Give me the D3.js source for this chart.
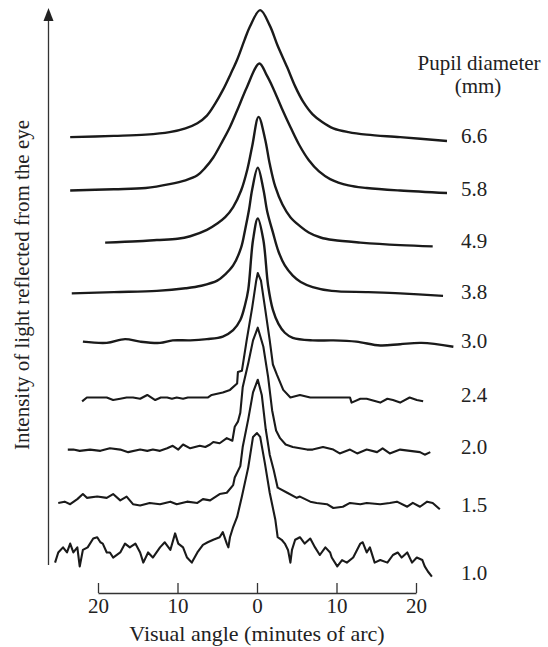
<!DOCTYPE html>
<html>
<head>
<meta charset="utf-8">
<script src="https://cdn.jsdelivr.net/npm/d3@7"></script>
<style>
    body { margin: 0; background: #fff; }
    svg { display: block; }
    text { font-family: "Liberation Serif", "Times New Roman", serif; fill: #222; }
</style>
</head>
<body>
<svg id="chart"></svg>
<script>
// pupil diameters (mm), top curve first
const pupils = ["6.6", "5.8", "4.9", "3.8", "3.0", "2.4", "2.0", "1.5", "1.0"];
// vertical offset of each trace (relative intensity, %)
const offsets = [329, 287, 246, 206, 167, 122, 81, 42, 0];
const xTicks = [-20, -10, 0, 10, 20];

// [visual angle (minutes of arc), relative intensity (%)]
const curve66 = [[-23.5,0],[-18,1],[-14,2],[-11,4],[-9,7],[-7.5,11],[-6.3,17],[-5.3,26],[-4.3,37],[-3.3,50],[-2.5,61],[-1.6,76],[-0.9,87],[0.4,100],[1.6,88],[2.6,72],[3.8,55],[4.8,40],[5.8,28],[7,18],[8.2,12],[9.6,7],[11.5,4],[13.8,2],[18,0],[23.9,-3]];
const curve58 = [[-23.5,0],[-18,1],[-14,2],[-11,5],[-9,8],[-7.5,12],[-6.5,18],[-5.5,26],[-4.5,37],[-3.4,50],[-2.3,66],[-1.3,81],[0.3,100],[1.2,91],[2.0,81],[3.1,65],[4.2,50],[5.3,36],[6.5,24],[7.8,15],[9.2,9],[11.5,4],[13.8,2],[18,0],[23.9,-2]];
const curve49 = [[-19.1,0],[-15,1],[-12.6,2],[-10,3],[-8.4,5],[-6.3,10],[-5,15],[-4,20],[-3,28],[-2,41],[-1.2,58],[-0.6,76],[0.2,99],[1,82],[1.6,62],[2.3,44],[3.2,30],[4.2,20],[5.4,13],[6.5,8],[8,4],[9.6,2],[13,0],[18,-2],[22.1,-3]];
const curve38 = [[-23.3,0],[-18,1],[-12.6,2],[-9,4],[-7,6],[-5,10],[-4,15],[-3,22],[-2,36],[-1.5,50],[-1,66],[-0.6,82],[0.1,99],[0.8,82],[1.3,64],[2,48],[2.7,33],[3.5,22],[4.5,14],[5.5,9],[7,5],[9.4,2],[14,1],[18,0],[23.4,-2]];
const curve30 = [[-21.9,1],[-18.9,0],[-16.6,3],[-14.7,1],[-12.2,0],[-10.6,2],[-8.4,2],[-6.3,3],[-4.3,5],[-3,10],[-2.1,18],[-1.5,30],[-1.1,42],[-0.5,81],[0.1,98],[0.8,81],[1.4,45],[2,26],[2.7,15],[3.5,8],[4.5,4],[7,2],[9.6,2],[12.5,1],[15.5,-2],[18,-1],[20.7,0],[24.7,-3]];
const curve24 = [[-22.0,-1],[-21.4,2],[-19.7,2],[-18.9,2],[-18.1,0],[-17.2,1],[-16.4,2],[-15.6,2],[-14.7,1],[-13.8,4],[-12.8,0],[-12.1,2],[-11.3,2],[-10.7,1],[-10.1,2],[-9.3,1],[-8.7,2],[-8.1,2],[-6.2,2],[-5.7,4],[-4.3,6],[-3.4,8],[-2.5,13],[-2.4,22],[-1.9,23],[-1.3,47],[-0.6,73],[-0.1,94],[0.1,100],[0.5,94],[1.0,73],[1.6,47],[2.0,28],[2.5,20],[3.3,8],[4.2,2],[5.4,4],[6.7,2],[9.2,2],[11.7,2],[11.9,-2],[13.0,1],[13.8,1],[15.5,-2],[16.4,1],[17.1,0],[18.0,-2],[19.2,2],[20.1,0],[20.9,-1]];
const curve20 = [[-23.8,2],[-23.1,2],[-22.3,1],[-21.0,2],[-19.7,1],[-18.5,3],[-17.2,2],[-16.2,0],[-14.7,2],[-13.8,1],[-13.1,2],[-12.2,1],[-11.3,3],[-10.6,5],[-9.9,2],[-9.3,6],[-8.4,3],[-7.2,5],[-6.5,4],[-5.9,6],[-5.5,8],[-4.7,7],[-3.8,11],[-3.1,9],[-2.8,20],[-2.4,24],[-2.1,31],[-1.8,51],[-1.1,70],[-0.5,88],[0.1,98],[0.8,83],[1.4,59],[1.9,33],[2.4,17],[2.9,11],[3.6,6],[4.5,4],[5.4,3],[6.3,2],[7.0,2],[8.3,4],[9.6,2],[10.4,-1],[11.7,2],[12.6,-1],[13.8,2],[15.1,0],[15.8,3],[16.7,-1],[18.0,2],[20.5,0],[21.1,-2],[21.8,0]];
const curve15 = [[-25.0,-1],[-24.2,0],[-23.5,-2],[-22.6,2],[-21.9,6],[-21.4,3],[-20.1,4],[-18.9,3],[-18.1,6],[-17.2,1],[-16.4,4],[-15.6,-2],[-14.7,-3],[-13.5,-1],[-12.2,-2],[-10.9,0],[-10.1,-2],[-8.8,0],[-7.5,-1],[-6.8,2],[-5.9,1],[-4.7,6],[-3.8,7],[-3.0,13],[-2.8,19],[-2.1,28],[-1.8,43],[-1.1,65],[-0.5,86],[0.1,96],[0.6,84],[1.1,57],[1.6,37],[2.1,25],[2.6,11],[3.8,7],[5.0,3],[5.4,4],[6.7,0],[7.5,-1],[8.8,-2],[9.6,-5],[10.8,-4],[11.7,-1],[13.0,-2],[13.8,-1],[15.5,-2],[16.7,-1],[17.6,0],[18.9,-4],[19.6,-1],[20.5,-4],[21.4,0],[22.1,-1],[23.0,-6]];
const curve10 = [[-25.4,-6],[-25.0,2],[-24.4,6],[-23.9,2],[-23.5,9],[-23.1,2],[-22.6,6],[-22.3,-9],[-21.9,4],[-21.3,6],[-20.6,13],[-20.1,14],[-19.7,10],[-19.4,9],[-18.9,2],[-18.5,2],[-18.1,-2],[-17.2,2],[-16.6,9],[-16.0,6],[-15.3,9],[-14.7,2],[-14.3,-6],[-13.7,2],[-13.1,-2],[-12.2,6],[-11.6,10],[-10.9,4],[-10.3,17],[-9.9,9],[-9.3,6],[-8.8,-2],[-8.2,-6],[-7.5,2],[-6.8,8],[-6.2,10],[-5.5,12],[-4.7,14],[-4.3,18],[-3.8,9],[-3.6,6],[-3.4,14],[-3.0,22],[-2.5,30],[-1.9,46],[-1.1,69],[-0.5,93],[0.0,96],[0.4,93],[1.0,72],[1.6,49],[2.3,28],[2.6,14],[3.1,12],[3.5,9],[3.9,4],[4.2,-6],[4.4,4],[4.8,12],[5.4,14],[6.0,9],[6.7,13],[7.3,6],[7.9,0],[8.6,6],[9.2,2],[9.4,-2],[10.1,-9],[10.7,-4],[11.3,-6],[12.1,-2],[13.0,9],[13.3,10],[13.8,2],[14.2,6],[14.8,-6],[15.5,-4],[16.4,-6],[17.1,0],[17.7,2],[18.2,-2],[18.9,2],[19.5,-6],[20.1,-2],[20.8,-4],[21.1,-9],[21.5,-13],[22.0,-17]];

const curves = [curve66, curve58, curve49, curve38, curve30, curve24, curve20, curve15, curve10];
// the first five traces are smooth, the rest are noisy recordings
const smoothCount = 5;

function draw() {
    const width = 548;
    const height = 647;
    const axisY = 593;

    const svg = d3.select("#chart")
        .attr("width", width)
        .attr("height", height);

    const x = d3.scaleLinear()
        .domain([-20, 20])
        .range([98, 416]);

    const y = d3.scaleLinear()
        .domain([0, 100])
        .range([555, 428]);

    // traces
    curves.forEach((data, i) => {
        const line = d3.line()
            .x(d => x(d[0]))
            .y(d => y(d[1] + offsets[i]))
            .curve(i < smoothCount ? d3.curveCatmullRom.alpha(0.5) : d3.curveLinear);

        svg.append("path")
            .datum(data)
            .attr("d", line)
            .attr("fill", "none")
            .attr("stroke", "#1a1a1a")
            .attr("stroke-width", i < smoothCount ? 2.4 : 2.1)
            .attr("stroke-linejoin", "round");
    });

    // pupil labels at the right
    const labelShift = {5: -5, 6: -5, 7: 3, 8: 18};
    svg.selectAll(".pupil")
        .data(pupils)
        .enter().append("text")
        .attr("class", "pupil")
        .attr("x", 461)
        .attr("y", (d, i) => y(offsets[i]) + (labelShift[i] !== undefined ? labelShift[i] : -2))
        .attr("dy", "0.35em")
        .style("font-size", "21px")
        .text(d => d);

    svg.append("text")
        .attr("x", 479)
        .attr("y", 70)
        .attr("text-anchor", "middle")
        .style("font-size", "21px")
        .text("Pupil diameter");

    svg.append("text")
        .attr("x", 478)
        .attr("y", 93)
        .attr("text-anchor", "middle")
        .style("font-size", "21px")
        .text("(mm)");

    // x-axis with upward ticks
    const xAxis = svg.append("g")
        .attr("transform", `translate(0,${axisY})`)
        .call(d3.axisBottom(x)
            .tickValues(xTicks)
            .tickSizeInner(-10)
            .tickSizeOuter(0)
            .tickPadding(5)
            .tickFormat(d => Math.abs(d)));

    xAxis.select(".domain").attr("stroke", "#333").attr("stroke-width", 1.3);
    xAxis.selectAll(".tick line").attr("stroke", "#333").attr("stroke-width", 1.3);
    xAxis.selectAll(".tick text")
        .style("font-family", "'Liberation Serif', serif")
        .style("font-size", "21px")
        .attr("fill", "#222");

    // x-axis label
    svg.append("text")
        .attr("x", x(0))
        .attr("y", 641)
        .attr("text-anchor", "middle")
        .style("font-size", "22px")
        .text("Visual angle (minutes of arc)");

    // y-axis arrow
    svg.append("line")
        .attr("x1", 48.5).attr("x2", 48.5)
        .attr("y1", 565).attr("y2", 16)
        .attr("stroke", "#333")
        .attr("stroke-width", 1.3);

    svg.append("path")
        .attr("d", "M48.5,8 L43.5,21 L53.5,21 Z")
        .attr("fill", "#222");

    // y-axis label
    svg.append("text")
        .attr("transform", "translate(22,285) rotate(-90)")
        .attr("text-anchor", "middle")
        .attr("dy", "0.35em")
        .style("font-size", "21px")
        .text("Intensity of light reflected from the eye");
}

window.addEventListener("load", () => {
    draw();
});
</script>
</body>
</html>
